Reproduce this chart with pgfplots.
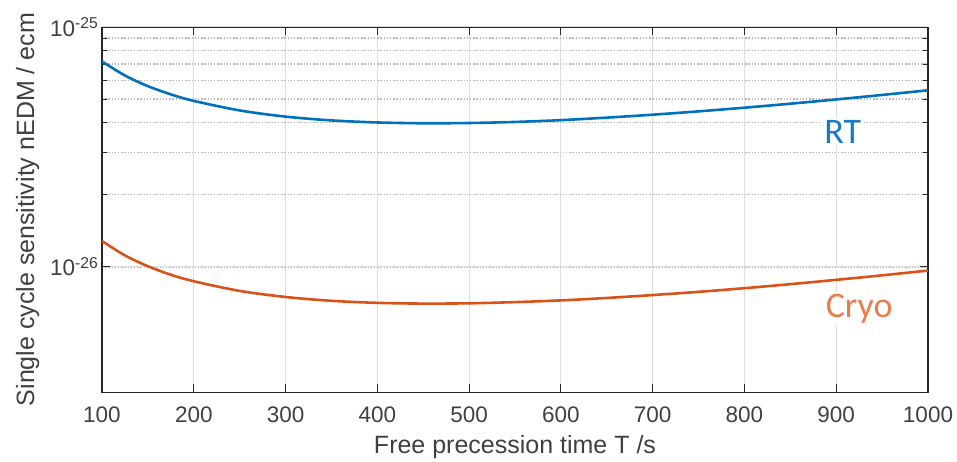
\documentclass[border=0pt]{standalone}
\usepackage{pgfplots}
\pgfplotsset{compat=1.18}
\usepackage{fontspec}
\setmainfont{Liberation Sans}
\newfontfamily\calib{Carlito}
\usetikzlibrary{calc}
\definecolor{mblue}{rgb}{0,0.447,0.741}
\definecolor{morange}{rgb}{0.85,0.325,0.098}
\definecolor{rtcol}{HTML}{1A7BC4}
\definecolor{cryocol}{HTML}{E87D4E}
\definecolor{axcol}{rgb}{0.15,0.15,0.15}
\definecolor{txtcol}{rgb}{0.25,0.25,0.25}
\begin{document}
\begin{tikzpicture}
\begin{axis}[
  scale only axis,
  width=826bp, height=365bp,
  ymode=log,
  xmin=100, xmax=1000,
  ymin=3e-27, ymax=1e-25,
  xtick={100,200,...,1000},
  ytick={1e-26,1e-25},
  yticklabels={10\textsuperscript{-26},10\textsuperscript{-25}},
  /pgf/number format/assume math mode=true,
  /pgf/number format/1000 sep={},
  tick label style={font=\fontsize{22.5bp}{26bp}\selectfont, text=txtcol},
  xticklabel style={yshift=-11bp},
  yticklabel style={xshift=0bp},
  label style={font=\fontsize{25bp}{28bp}\selectfont, text=txtcol},
  xlabel={Free precession time T /s},
  ylabel={Single cycle sensitivity nEDM / ecm},
  xlabel style={yshift=-6bp},
  ylabel style={yshift=4bp},
  axis line style={axcol, line width=1.1bp},
  tick style={axcol, line width=1bp},
  major tick length=8bp,
  minor tick length=5bp,
  tick align=inside,
  xtick pos=both, ytick pos=both,
  xmajorgrids, ymajorgrids, yminorgrids,
  major grid style={gray!25, line width=1.2bp},
  minor grid style={gray!55, line width=1.5bp, dash pattern=on 1.4bp off 1.8bp},
  every axis plot/.append style={line width=2.6bp, smooth},
  clip=true,
]
\addplot[mblue] coordinates {
(100,7.19e-26) (125,6.28e-26) (150,5.67e-26) (175,5.24e-26) (200,4.92e-26)
(250,4.49e-26) (300,4.23e-26) (350,4.08e-26) (400,4.00e-26) (450,3.97e-26)
(500,3.98e-26) (550,4.02e-26) (600,4.09e-26) (650,4.19e-26) (700,4.31e-26)
(750,4.45e-26) (800,4.61e-26) (850,4.79e-26) (900,4.99e-26) (950,5.21e-26)
(1000,5.45e-26)
};
\addplot[morange] coordinates {
(100,1.280e-26) (125,1.115e-26) (150,1.005e-26) (175,9.26e-27) (200,8.70e-27)
(250,7.93e-27) (300,7.48e-27) (350,7.21e-27) (400,7.07e-27) (450,7.02e-27)
(500,7.04e-27) (550,7.12e-27) (600,7.24e-27) (650,7.41e-27) (700,7.62e-27)
(750,7.86e-27) (800,8.14e-27) (850,8.46e-27) (900,8.82e-27) (950,9.21e-27)
(1000,9.64e-27)
};
\node[anchor=base, fill=white, inner sep=2bp, text=rtcol, font=\calib\fontsize{36bp}{40bp}\selectfont] at (axis cs:907,3.28e-26) {RT};
\node[anchor=base, fill=white, inner sep=2bp, text=cryocol, font=\calib\fontsize{36bp}{40bp}\selectfont] at (axis cs:925,6.15e-27) {Cryo};
\end{axis}
\pgfresetboundingbox
\path[use as bounding box] ($(current axis.south west)+(-102bp,-70bp)$) rectangle ($(current axis.north east)+(29bp,27bp)$);
\end{tikzpicture}
\end{document}
